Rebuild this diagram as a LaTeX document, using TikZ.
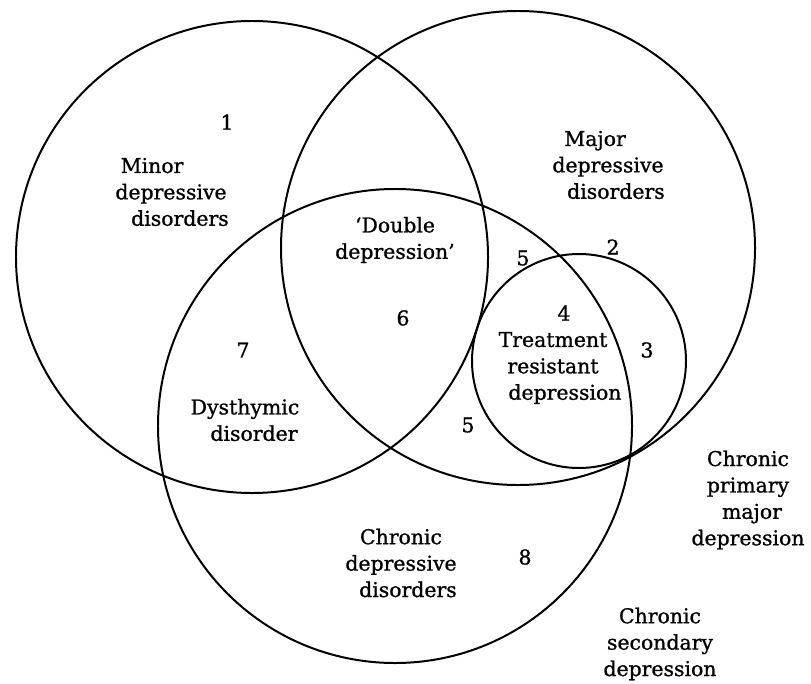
\documentclass[tikz,border=0pt]{standalone}
\usepackage{fontspec}
\setmainfont[FakeBold=1]{DejaVu Serif}
\begin{document}
\begin{tikzpicture}[x=1bp,y=-1bp,
  venn/.style={circle,draw,line width=2pt,inner sep=0pt,outer sep=0pt},
  lbl/.style={align=center,inner sep=0pt,font=\fontsize{20.5}{26.5}\selectfont},
  num/.style={inner sep=0pt,font=\fontsize{20.5}{26.5}\selectfont}]
\useasboundingbox (0,0) rectangle (811,684);
% circles
\node[venn,minimum size=472bp] (minor) at (252,257) {};
\node[venn,minimum size=474bp] (major) at (518,248) {};
\node[venn,minimum size=474bp] (chronic) at (395,426) {};
\node[venn,minimum size=214bp] (trd) at (579,361) {};
% labels
\node[lbl] (tminor) at (171,192) {Minor\hspace*{38pt}\\depressive\\\hspace*{18pt}disorders};
\node[lbl] (tmajor) at (608,165) {Major\hspace*{26pt}\\depressive\\\hspace*{16pt}disorders};
\node[lbl] (tdouble) at (395,240) {‘Double\\depression’};
\node[lbl] (ttrd) at (553,368) {Treatment\\resistant\\\hspace*{24pt}depression};
\node[lbl] (tdys) at (245,420) {Dysthymic\\\hspace*{18pt}disorder};
\node[lbl] (tchron) at (401,563) {Chronic\\depressive\\\hspace*{14pt}disorders};
\node[lbl] (tprim) at (748,500) {Chronic\\primary\\\hspace*{8pt}major\\depression};
\node[lbl] (tsec) at (660,644) {Chronic\\secondary\\depression};
% region numbers
\node[num] (n1) at (227,122) {1};
\node[num] (n2) at (613,247) {2};
\node[num] (n5a) at (523,258) {5};
\node[num] (n4) at (564,313) {4};
\node[num] (n3) at (647,350) {3};
\node[num] (n5b) at (468,425) {5};
\node[num] (n6) at (403,318) {6};
\node[num] (n7) at (243,350) {7};
\node[num] (n8) at (525,557) {8};
\end{tikzpicture}
\end{document}
